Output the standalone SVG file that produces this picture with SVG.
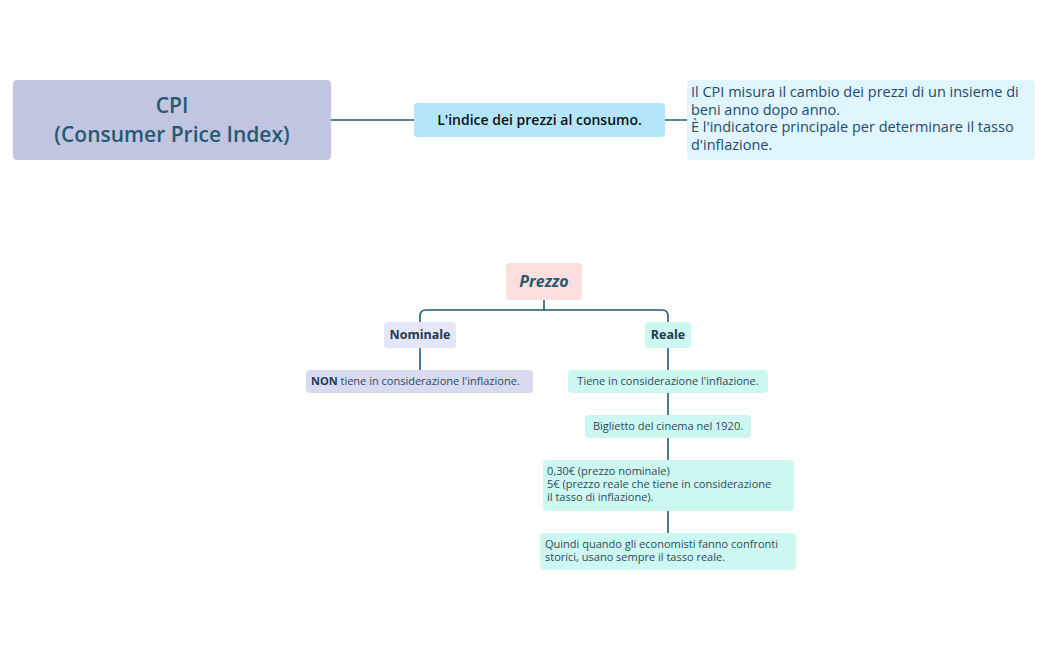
<svg xmlns="http://www.w3.org/2000/svg" width="1049" height="650" viewBox="0 0 1049 650">
<style>
text{font-family:"Open Sans","Liberation Sans",sans-serif}
.c{fill:none;stroke:#1f5a78;stroke-width:1.6}
.s{font-size:11px;fill:#2f4a5a}
.m{font-size:12.5px;font-weight:bold;fill:#1f3a50;text-anchor:middle}
</style>
<rect width="1049" height="650" fill="#fff"/>
<g id="connectors">
<path class="c" d="M331 120H414M665 120H687"/>
<path class="c" d="M544 300V310M420 322V316Q420 310 426 310H662Q668 310 668 316V322"/>
<path class="c" d="M420 348V370M668 348V370M668 393V415M668 438V460M668 511V533"/>
</g>
<g id="cpi"><rect x="13" y="80" width="318" height="80" rx="4" fill="#c2c5e1"/>
<text x="172" y="113" font-size="21" font-weight="600" fill="#245a72" text-anchor="middle">CPI</text>
<text x="172" y="142" font-size="21" font-weight="600" fill="#245a72" text-anchor="middle">(Consumer Price Index)</text></g>
<g id="indice"><rect x="414" y="103" width="251" height="34" rx="4" fill="#b3e5fc"/>
<text x="539.5" y="125" font-size="14" font-weight="600" fill="#111" text-anchor="middle">L'indice dei prezzi al consumo.</text></g>
<g id="desc"><rect x="687" y="80" width="348" height="80" rx="4" fill="#e1f5fe"/>
<text font-size="14.5" fill="#1e4a6e"><tspan x="691" y="97">Il CPI misura il cambio dei prezzi di un insieme di</tspan><tspan x="691" y="115">beni anno dopo anno.</tspan><tspan x="691" y="132">È l'indicatore principale per determinare il tasso</tspan><tspan x="691" y="150">d'inflazione.</tspan></text></g>
<g id="prezzo"><rect x="506" y="263" width="76" height="37" rx="4" fill="#fddede"/>
<text x="544" y="287" font-size="16" font-weight="bold" font-style="italic" fill="#245a72" text-anchor="middle">Prezzo</text></g>
<g id="nominale"><rect x="384" y="322" width="72" height="26" rx="4" fill="#e3e6f6"/>
<text class="m" x="420" y="339">Nominale</text></g>
<g id="reale"><rect x="645" y="322" width="46" height="26" rx="4" fill="#cdf7f1"/>
<text class="m" x="668" y="339">Reale</text></g>
<g id="non"><rect x="306" y="370" width="227" height="23" rx="4" fill="#d8daf0"/>
<text class="s" x="311" y="385"><tspan font-weight="bold" fill="#1f3a50">NON</tspan> tiene in considerazione l'inflazione.</text></g>
<g id="tiene"><rect x="568" y="370" width="200" height="23" rx="4" fill="#cdf7f1"/>
<text class="s" x="668" y="385" text-anchor="middle">Tiene in considerazione l'inflazione.</text></g>
<g id="biglietto"><rect x="585" y="415" width="166" height="23" rx="4" fill="#cdf7f1"/>
<text class="s" x="668" y="430" text-anchor="middle">Biglietto del cinema nel 1920.</text></g>
<g id="prezzi"><rect x="543" y="460" width="251" height="51" rx="4" fill="#cdf7f1"/>
<text class="s"><tspan x="547" y="475">0,30€ (prezzo nominale)</tspan><tspan x="547" y="488">5€ (prezzo reale che tiene in considerazione</tspan><tspan x="547" y="501">il tasso di inflazione).</tspan></text></g>
<g id="quindi"><rect x="540" y="533" width="256" height="37" rx="4" fill="#cdf7f1"/>
<text class="s"><tspan x="545" y="548">Quindi quando gli economisti fanno confronti</tspan><tspan x="545" y="561">storici, usano sempre il tasso reale.</tspan></text></g>
</svg>
